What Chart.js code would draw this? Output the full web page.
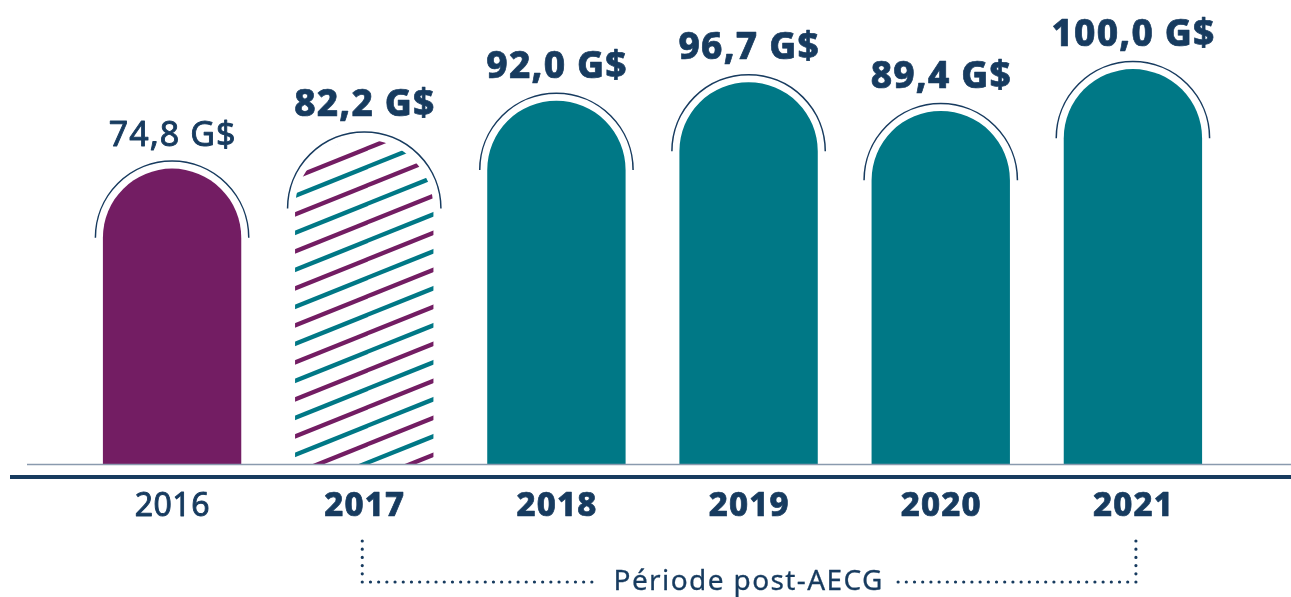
<!DOCTYPE html>
<html><head><meta charset="utf-8">
<script src="https://cdn.jsdelivr.net/npm/chart.js@4"></script>
<style>html,body{margin:0;padding:0;background:#fff}#wrap{width:1291px;height:597px}</style>
</head><body><div id="wrap"><canvas id="c" width="1291" height="597"></canvas></div>
<script>
const years = ['2016','2017','2018','2019','2020','2021'];
const values = [74.8, 82.2, 92.0, 96.7, 89.4, 100.0];
const valueLabels = ['74,8 G$','82,2 G$','92,0 G$','96,7 G$','89,4 G$','100,0 G$'];
const boldFlags = [false, true, true, true, true, true];
const periodLabel = 'Période post-AECG';
const periodStart = 1, periodEnd = 5;

const NAVY = '#173b5f', PURPLE = '#731d63', TEAL = '#007886';
const FONT = '"Noto Sans", "Open Sans", sans-serif';

function makeHatch(){
  const p = document.createElement('canvas');
  const w = 92, h = 37;
  p.width = w; p.height = h;
  const g = p.getContext('2d');
  g.lineWidth = 4.4;
  const slope = 0.4;
  const draw = (col, off) => {
    g.strokeStyle = col;
    for (let k = -3; k <= 3; k++) {
      const y0 = off + k*h;
      g.beginPath(); g.moveTo(-10, y0 + 10*slope); g.lineTo(w+10, y0 - (w+10)*slope); g.stroke();
    }
  };
  draw(PURPLE, 0);
  draw(TEAL, 18.5);
  return g.createPattern(p, 'repeat');
}
const ctx0 = document.getElementById('c').getContext('2d');
const hatch = makeHatch();
const colors = [PURPLE, hatch, TEAL, TEAL, TEAL, TEAL];

function txt(c, s, x, y, ls, sw){
  c.letterSpacing = ls + 'px';
  c.fillText(s, x + ls/2, y);
  if (sw) { c.lineWidth = sw; c.strokeStyle = NAVY; c.lineJoin = 'round'; c.strokeText(s, x + ls/2, y); }
  c.letterSpacing = '0px';
}

const deco = {
  id: 'deco',
  afterDatasetsDraw(chart){
    const c = chart.ctx, meta = chart.getDatasetMeta(0);
    const ys = chart.scales.y, xs = chart.scales.x;
    const base = ys.getPixelForValue(0);
    c.save();
    c.strokeStyle = '#8a9aae'; c.lineWidth = 1.6;
    c.beginPath(); c.moveTo(27, base + 0.5); c.lineTo(1291, base + 0.5); c.stroke();
    c.strokeStyle = NAVY; c.lineWidth = 4;
    c.beginPath(); c.moveTo(10, base + 13); c.lineTo(1291, base + 13); c.stroke();
    meta.data.forEach((bar, i) => {
      const half = bar.width / 2;
      c.strokeStyle = NAVY; c.lineWidth = 1.5;
      c.beginPath(); c.arc(bar.x, bar.y + half, half + 7.5, Math.PI, 2*Math.PI); c.stroke();
      c.fillStyle = NAVY; c.textAlign = 'center'; c.textBaseline = 'alphabetic';
      c.font = (boldFlags[i] ? '800 37px ' : '400 34px ') + FONT;
      txt(c, valueLabels[i], bar.x, bar.y - 23, boldFlags[i] ? 1.2 : 1, boldFlags[i] ? 0.7 : 0.9);
      c.font = (boldFlags[i] ? '800 33px ' : '400 32px ') + FONT;
      txt(c, years[i], xs.getPixelForValue(i), base + 52, boldFlags[i] ? 1.2 : 0.5, boldFlags[i] ? 0.7 : 0.9);
    });
    const x1 = xs.getPixelForValue(periodStart) - 2, x2 = xs.getPixelForValue(periodEnd) + 3;
    const yTop = base + 77, yB = base + 118;
    c.font = '400 28px ' + FONT;
    const mid = 748;
    c.letterSpacing = '1.4px';
    const tw = c.measureText(periodLabel).width;
    c.letterSpacing = '0px';
    c.fillStyle = NAVY; c.textAlign = 'center';
    txt(c, periodLabel, mid, yB + 8, 1.4, 0.3);
    c.strokeStyle = NAVY; c.lineWidth = 3.2; c.lineCap = 'round'; c.setLineDash([0, 8.2]);
    c.beginPath(); c.moveTo(x1, yTop); c.lineTo(x1, yB); c.lineTo(mid - tw/2 - 20, yB); c.stroke();
    c.beginPath(); c.moveTo(x2, yTop); c.lineTo(x2, yB); c.lineTo(mid + tw/2 + 12, yB); c.stroke();
    c.restore();
  }
};

new Chart(ctx0, {
  type: 'bar',
  data: { labels: years, datasets: [{
    data: values, backgroundColor: colors, borderWidth: 0,
    borderRadius: {topLeft: 200, topRight: 200, bottomLeft: 0, bottomRight: 0},
    borderSkipped: false,
    barPercentage: 1, categoryPercentage: 0.72
  }]},
  options: {
    responsive: false, animation: false,
    layout: { padding: { left: 76, right: 62, top: 0, bottom: 133 } },
    plugins: { legend: {display: false}, tooltip: {enabled: false} },
    scales: {
      x: { display: false },
      y: { display: false, min: 0, max: 117.5 }
    }
  },
  plugins: [deco]
});
</script></body></html>
